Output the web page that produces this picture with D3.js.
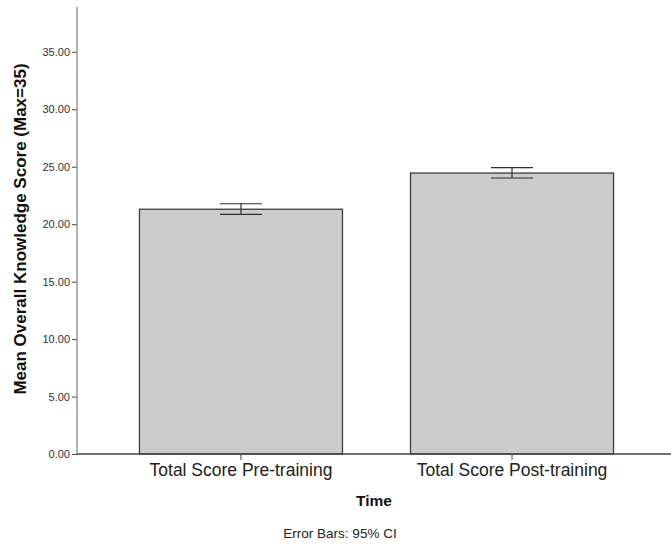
<!DOCTYPE html>
<html lang="en">
<head>
<meta charset="UTF-8">
<script src="https://cdnjs.cloudflare.com/ajax/libs/d3/7.8.4/d3.min.js"></script>
<title>Knowledge score</title>
<style>
  body { margin: 0; background: #fff; }
  text { font-family: "Liberation Sans", Arial, sans-serif; }
</style>
</head>
<body>
<script>
// data
const categories = ["Total Score Pre-training", "Total Score Post-training"]
const means = [21.3, 24.45]
const ciLow = [20.85, 24.02]
const ciHigh = [21.78, 24.93]
const yTicks = [0, 5, 10, 15, 20, 25, 30, 35]

const data = categories.map((c, i) => ({ name: c, mean: means[i], lo: ciLow[i], hi: ciHigh[i] }))

const W = 671, H = 552
const plotLeft = 77, plotRight = 671, plotTop = 7, plotBottom = 454

let svg = d3.select("body").append("svg")
  .attr("width", W)
  .attr("height", H)

let yScale = d3.scaleLinear()
  .domain([0, 38.9])
  .range([plotBottom, plotTop])

let xScale = d3.scaleBand()
  .domain(categories)
  .range([82, plotRight])
  .paddingInner(0.251)
  .paddingOuter(0.212)

// bars
svg.selectAll("rect.bar").data(data)
  .enter().append("rect")
  .attr("class", "bar")
  .attr("x", d => xScale(d.name))
  .attr("y", d => yScale(d.mean))
  .attr("width", xScale.bandwidth())
  .attr("height", d => yScale(0) - yScale(d.mean))
  .style("fill", "#cccccc")
  .style("stroke", "#3c3c3c")
  .style("stroke-width", 1.3)

// error bars
const capHalf = 21
const cx = d => xScale(d.name) + xScale.bandwidth() / 2
let eb = svg.selectAll("g.err").data(data)
  .enter().append("g")
  .attr("class", "err")
  .style("stroke", "#2e2e2e")
  .style("stroke-width", 1.2)
eb.append("line")
  .attr("x1", cx).attr("x2", cx)
  .attr("y1", d => yScale(d.lo))
  .attr("y2", d => yScale(d.hi))
eb.append("line")
  .attr("x1", d => cx(d) - capHalf)
  .attr("x2", d => cx(d) + capHalf)
  .attr("y1", d => yScale(d.hi))
  .attr("y2", d => yScale(d.hi))
eb.append("line")
  .attr("x1", d => cx(d) - capHalf)
  .attr("x2", d => cx(d) + capHalf)
  .attr("y1", d => yScale(d.lo))
  .attr("y2", d => yScale(d.lo))

// y axis
let yAxis = svg.append("g")
  .attr("transform", `translate(${plotLeft},0)`)
  .call(d3.axisLeft(yScale).tickValues(yTicks).tickFormat(d3.format(".2f")).tickSize(5).tickPadding(2).tickSizeOuter(0))
yAxis.select(".domain").remove()
yAxis.selectAll("line").attr("stroke", "#444")
yAxis.selectAll("text")
  .style("font-size", "11px")
  .attr("fill", "#333")

svg.append("line")
  .attr("x1", plotLeft).attr("x2", plotLeft)
  .attr("y1", plotTop).attr("y2", plotBottom)
  .attr("stroke", "#888")
  .attr("stroke-width", 1.3)

// x axis
let xAxis = svg.append("g")
  .attr("transform", `translate(0,${plotBottom})`)
  .call(d3.axisBottom(xScale).tickSize(6).tickPadding(4).tickSizeOuter(0))
xAxis.select(".domain").remove()
xAxis.selectAll("line").attr("stroke", "#444")
xAxis.selectAll("text")
  .style("font-size", "17.5px")
  .attr("fill", "#222")

svg.append("line")
  .attr("x1", plotLeft).attr("x2", plotRight)
  .attr("y1", plotBottom).attr("y2", plotBottom)
  .attr("stroke", "#444")
  .attr("stroke-width", 1.3)

// titles
svg.append("text")
  .attr("transform", `translate(26,229) rotate(-90)`)
  .attr("text-anchor", "middle")
  .style("font-size", "17px")
  .style("font-weight", "bold")
  .attr("fill", "#111")
  .text("Mean Overall Knowledge Score (Max=35)")

svg.append("text")
  .attr("x", (plotLeft + plotRight) / 2)
  .attr("y", 506)
  .attr("text-anchor", "middle")
  .style("font-size", "15.5px")
  .style("font-weight", "bold")
  .attr("fill", "#111")
  .text("Time")

svg.append("text")
  .attr("x", 340)
  .attr("y", 538)
  .attr("text-anchor", "middle")
  .style("font-size", "13.5px")
  .attr("fill", "#222")
  .text("Error Bars: 95% CI")
</script>
</body>
</html>
